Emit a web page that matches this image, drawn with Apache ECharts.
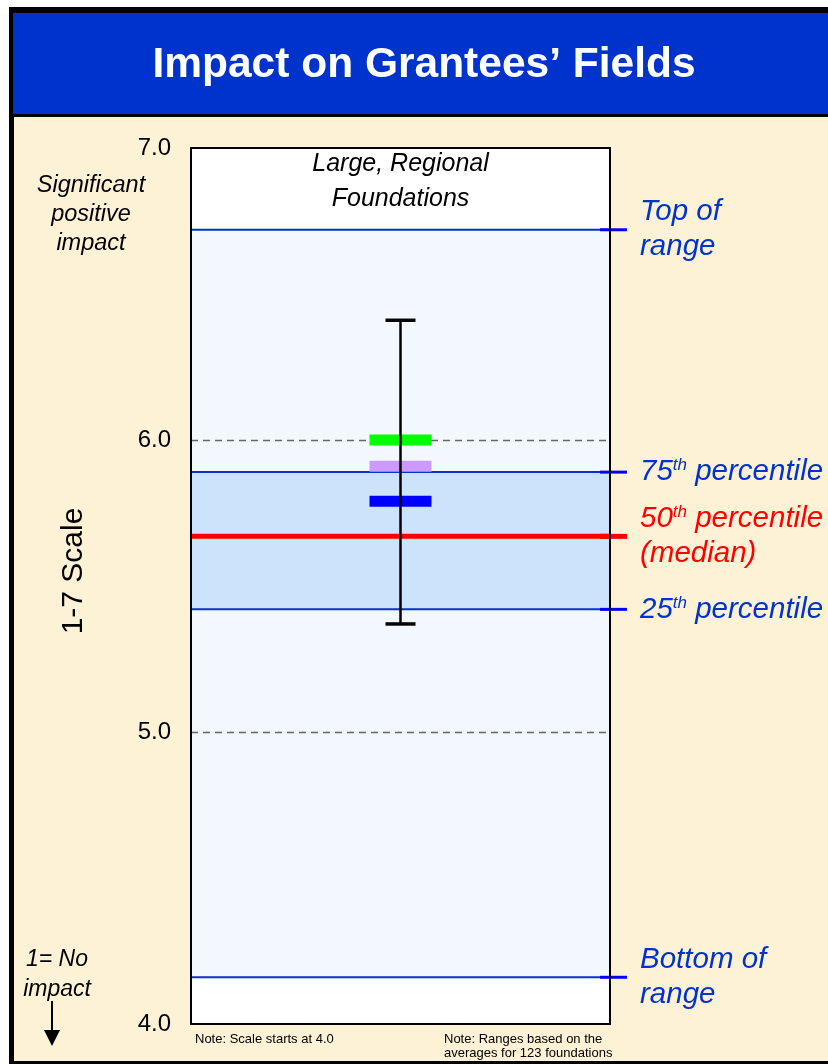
<!DOCTYPE html>
<html>
<head>
<meta charset="utf-8">
<title>Impact on Grantees' Fields</title>
<script src="https://cdn.jsdelivr.net/npm/echarts@6/dist/echarts.min.js"></script>
<style>
  html, body { margin: 0; padding: 0; background: #ffffff; }
  #main { width: 828px; height: 1064px; }
</style>
</head>
<body>
<div id="main"></div>
<script>
// ---- data ----
const categories = ['Large, Regional\nFoundations'];
const scaleMin = 4;
const scaleMax = 7;
const scaleStep = 1;
const gridLineValues = [5, 6];             // dashed guide lines inside the box
const rangeBounds = [4.16, 6.72];          // bottom / top of range
const quartiles = [5.42, 5.67, 5.89];      // 25th, 50th (median), 75th percentile
const whisker = [5.37, 6.41];              // low / high end of the error bar
const markerValues = [6.00, 5.91, 5.79];   // coloured markers, top to bottom
const refLabels = [
  'Top of\nrange',
  '{n|75}{s|th}{n| percentile}',
  '{n|50}{s|th}{n| percentile}\n{n|(median)}',
  '{n|25}{s|th}{n| percentile}',
  'Bottom of\nrange'
];
const refValues = [rangeBounds[1], quartiles[2], quartiles[1], quartiles[0], rangeBounds[0]];

// ---- styling ----
const FONT = '"Liberation Sans", Arial, Helvetica, sans-serif';
const BLUE = '#0033cc';
const RED = '#ff0000';
const CREAM = '#fdf1d6';
const markerColors = ['#00ff00', '#cc99ff', '#0000ff'];
const MEDIAN_INDEX = 2;
const LABEL_SIZE = 29.5;

const chart = echarts.init(document.getElementById('main'), null, { renderer: 'canvas' });

const option = {
  backgroundColor: '#ffffff',
  animation: false,
  graphic: [
    // outer frame, banner and panel
    { type: 'rect', z: -5, shape: { x: 9, y: 7, width: 830, height: 1057 }, style: { fill: '#000000' } },
    { type: 'rect', z: -4, shape: { x: 13, y: 13, width: 820, height: 101 }, style: { fill: BLUE } },
    { type: 'rect', z: -4, shape: { x: 14, y: 117, width: 820, height: 944 }, style: { fill: CREAM } },
    { type: 'text', z: 50, x: 424, y: 65,
      style: { text: 'Impact on Grantees\u2019 Fields', fill: '#ffffff', align: 'center', verticalAlign: 'middle',
               font: 'bold 42.5px ' + FONT } },
    { type: 'text', z: 50, x: 91, y: 214,
      style: { text: 'Significant\npositive\nimpact', fill: '#000', align: 'center', verticalAlign: 'middle',
               font: 'italic 23.5px ' + FONT, lineHeight: 29 } },
    { type: 'text', z: 50, x: 57, y: 975,
      style: { text: '1= No\nimpact', fill: '#000', align: 'center', verticalAlign: 'middle',
               font: 'italic 23px ' + FONT, lineHeight: 30 } },
    { type: 'line', z: 50, shape: { x1: 52, y1: 1001, x2: 52, y2: 1032 }, style: { stroke: '#000', lineWidth: 2 } },
    { type: 'polygon', z: 50, shape: { points: [[44, 1030], [60, 1030], [52, 1046]] }, style: { fill: '#000' } },
    { type: 'text', z: 50, x: 74, y: 571, rotation: Math.PI / 2,
      style: { text: '1-7 Scale', fill: '#000', align: 'center', verticalAlign: 'middle',
               font: '30px ' + FONT } },
    { type: 'text', z: 50, x: 195, y: 1039,
      style: { text: 'Note: Scale starts at 4.0', fill: '#000', align: 'left', verticalAlign: 'middle',
               font: '13px ' + FONT } },
    { type: 'text', z: 50, x: 444, y: 1046,
      style: { text: 'Note: Ranges based on the\naverages for 123 foundations', fill: '#000', align: 'left',
               verticalAlign: 'middle', font: '13px ' + FONT, lineHeight: 14 } }
  ],
  grid: {
    left: 191, top: 148, width: 419, height: 876,
    show: true, backgroundColor: '#ffffff', borderWidth: 0
  },
  xAxis: [
    {
      type: 'category', data: categories, position: 'bottom', z: 18,
      axisLine: { show: true, onZero: false, lineStyle: { color: '#000', width: 2 } },
      axisTick: { show: false }, axisLabel: { show: false }, splitLine: { show: false }
    },
    {
      type: 'category', data: categories, position: 'top', z: 18,
      axisLine: { show: true, onZero: false, lineStyle: { color: '#000', width: 2 } },
      axisTick: { show: false }, splitLine: { show: false },
      axisLabel: {
        inside: true, margin: -1, color: '#000', fontFamily: FONT,
        fontStyle: 'italic', fontSize: 25, lineHeight: 35
      }
    }
  ],
  yAxis: [
    {
      type: 'value', min: scaleMin, max: scaleMax, interval: scaleStep, position: 'left', z: 18,
      axisLine: { show: true, lineStyle: { color: '#000', width: 2 } },
      axisTick: { show: false },
      axisLabel: {
        margin: 20, color: '#000', fontFamily: FONT, fontSize: 24,
        showMinLabel: true, showMaxLabel: true,
        formatter: v => v.toFixed(1)
      },
      splitLine: { show: false }
    },
    {
      type: 'value', min: scaleMin, max: scaleMax, interval: scaleStep, position: 'right', z: 18,
      axisLine: { show: true, lineStyle: { color: '#000', width: 2 } },
      axisTick: { show: false }, axisLabel: { show: false }, splitLine: { show: false }
    }
  ],
  series: [
    {
      // shaded range (full span) and interquartile band
      type: 'custom', name: 'Range', z: 1, silent: true,
      encode: { x: 0, y: [1, 2, 3, 4] },
      data: [[0, rangeBounds[0], rangeBounds[1], quartiles[0], quartiles[2]]],
      renderItem(params, api) {
        const cs = params.coordSys;
        const yB = api.coord([0, api.value(1)])[1];
        const yT = api.coord([0, api.value(2)])[1];
        const y25 = api.coord([0, api.value(3)])[1];
        const y75 = api.coord([0, api.value(4)])[1];
        return {
          type: 'group',
          children: [
            { type: 'rect', shape: { x: cs.x, y: yT, width: cs.width, height: yB - yT }, style: { fill: '#f3f8fe' } },
            { type: 'rect', shape: { x: cs.x, y: y75, width: cs.width, height: y25 - y75 }, style: { fill: '#cce4fb' } }
          ]
        };
      }
    },
    {
      // dashed guide lines at the inner ticks
      type: 'custom', name: 'Guides', z: 5, silent: true,
      encode: { x: 0, y: 1 },
      data: gridLineValues.map(v => [0, v]),
      renderItem(params, api) {
        const cs = params.coordSys;
        const y = Math.round(api.coord([0, api.value(1)])[1]) + 0.5;
        return {
          type: 'line', shape: { x1: cs.x, y1: y, x2: cs.x + cs.width, y2: y },
          style: { stroke: '#666666', lineWidth: 1.3, lineDash: [7, 5] }
        };
      }
    },
    {
      // reference lines with their labels on the right
      type: 'custom', name: 'Reference', z: 15, silent: true,
      encode: { x: 0, y: 1 },
      data: refValues.map(v => [0, v]),
      renderItem(params, api) {
        const cs = params.coordSys;
        const i = params.dataIndex;
        const y = api.coord([0, api.value(1)])[1];
        const isMedian = i === MEDIAN_INDEX;
        const color = isMedian ? RED : BLUE;
        const right = cs.x + cs.width;
        return {
          type: 'group',
          children: [
            { type: 'line', shape: { x1: cs.x, y1: y, x2: right, y2: y },
              style: { stroke: color, lineWidth: isMedian ? 5 : 2 } },
            { type: 'line', shape: { x1: right - 10, y1: y, x2: right + 17, y2: y },
              style: { stroke: isMedian ? RED : '#0000ff', lineWidth: isMedian ? 5 : 3 } },
            { type: 'text', x: 640, y: y,
              style: {
                text: refLabels[i], fill: color, align: 'left', verticalAlign: 'middle',
                font: 'italic ' + LABEL_SIZE + 'px ' + FONT, lineHeight: 35,
                rich: {
                  n: { fill: color, fontFamily: FONT, fontStyle: 'italic', fontSize: LABEL_SIZE, lineHeight: 35 },
                  s: { fill: color, fontFamily: FONT, fontStyle: 'italic', fontSize: 17, padding: [0, 0, 13, 0] }
                }
              } }
          ]
        };
      }
    },
    {
      type: 'scatter', name: 'Markers', z: 20, silent: true,
      symbol: 'rect', symbolSize: [62, 11],
      data: markerValues.map((v, i) => ({ value: [0, v], itemStyle: { color: markerColors[i], opacity: 1 } }))
    },
    {
      // error bar
      type: 'custom', name: 'Spread', z: 21, silent: true,
      encode: { x: 0, y: [1, 2] },
      data: [[0, whisker[0], whisker[1]]],
      renderItem(params, api) {
        const lo = api.coord([0, api.value(1)]);
        const hi = api.coord([0, api.value(2)]);
        const x = lo[0];
        const half = 15;
        return {
          type: 'group',
          children: [
            { type: 'line', shape: { x1: x, y1: hi[1], x2: x, y2: lo[1] }, style: { stroke: '#000', lineWidth: 2.5 } },
            { type: 'line', shape: { x1: x - half, y1: hi[1], x2: x + half, y2: hi[1] }, style: { stroke: '#000', lineWidth: 3.5 } },
            { type: 'line', shape: { x1: x - half, y1: lo[1], x2: x + half, y2: lo[1] }, style: { stroke: '#000', lineWidth: 3.5 } }
          ]
        };
      }
    }
  ]
};

chart.setOption(option);
</script>
</body>
</html>
